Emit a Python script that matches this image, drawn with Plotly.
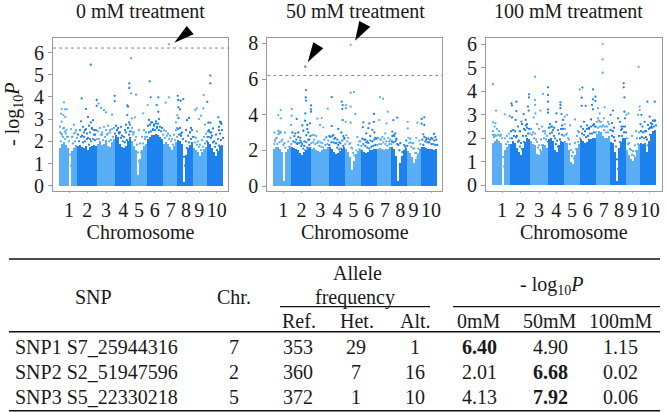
import plotly.graph_objects as go

W, H = 666, 412
ML, MR, MT, MB = 12, 4, 14, 16
FONT = "Liberation Serif"
LIGHT, DARK = "#5aaef6", "#1e82ee"
INK = "#1a1a1a"
SIZE = 20

chromosomes = ["1", "2", "3", "4", "5", "6", "7", "8", "9", "10"]
chrom_ends = [18.7, 37.7, 55.3, 71.7, 88.7, 103.7, 118.3, 134.3, 147.7, 163.7]
chrom_label_pos = [10, 28.3, 47, 64.3, 80, 95.7, 111.7, 127, 140.3, 157.7]
threshold = 6.2

# Height of the solid block, read every two position units
env_positions = list(range(1, 165, 2))
env_0 = [1.7,1.9,1.95,1.85,1.7,0,1.55,1.7,1.85,
         1.8,1.85,1.75,1.7,1.8,1.6,1.75,1.8,1.85,1.8,
         1.9,2.0,1.85,1.9,2.05,1.8,1.75,1.95,2.1,
         2.3,2.2,1.9,1.75,1.7,1.8,2.0,2.2,
         2.0,1.8,1.6,0.5,1.2,1.6,1.8,1.9,
         2.1,2.2,2.3,2.3,2.35,2.3,2.2,2.1,
         1.9,1.95,1.9,1.75,1.6,1.8,1.95,
         2.05,2.0,1.9,0.15,1.4,1.7,1.85,1.95,
         1.7,1.6,1.5,1.35,1.5,1.65,1.75,
         1.95,1.9,1.7,1.5,1.35,1.55,1.8,1.85]
env_50 = [2.1,2.2,2.2,2.05,1.9,0.3,1.9,2.1,2.25,
          2.2,2.15,2.1,2.0,1.85,1.75,1.9,2.0,2.15,2.2,
          2.1,2.15,2.0,1.95,1.9,2.0,2.1,2.05,2.2,
          2.2,2.1,1.9,1.8,1.85,1.95,2.1,2.2,
          2.1,1.9,1.6,0.9,1.4,1.8,1.95,2.1,
          2.0,1.9,1.85,1.9,2.0,2.0,2.05,2.1,
          2.1,2.15,2.1,2.0,2.05,2.1,2.2,
          2.2,2.1,1.7,0.3,1.3,1.7,2.0,2.15,
          1.95,1.85,1.6,1.3,1.5,1.8,2.05,
          2.2,2.2,2.15,2.1,2.1,2.05,2.0,2.1]
env_100 = [1.8,1.9,1.95,1.9,1.8,0.0,1.5,1.65,1.75,
           1.75,1.9,1.8,1.6,1.4,1.3,1.6,1.85,2.0,1.95,
           1.9,1.75,1.7,1.35,1.3,1.45,1.75,1.7,1.6,
           1.95,2.0,1.9,1.5,1.4,1.7,1.9,1.85,
           1.9,1.8,1.5,1.0,0.9,1.3,1.6,1.75,
           1.95,1.9,1.8,1.85,1.95,1.95,2.0,2.0,
           2.2,2.3,2.25,2.1,2.0,2.0,2.1,
           1.85,1.8,1.4,0.2,1.6,1.85,2.0,2.0,
           1.5,1.3,1.1,1.05,1.2,1.5,1.75,
           1.8,1.75,1.8,1.4,1.9,2.2,2.3,2.35]

# SNPs packed just above the block, read every two position units
near_0 = [2.0,2.2,2.1,2.2,2.0,0.9,1.9,2.0,2.15,
          2.0,2.2,1.95,2.0,2.1,1.85,2.0,2.1,2.05,2.1,
          2.1,2.3,2.05,2.2,2.3,2.0,2.05,2.2,2.35,
          2.5,2.4,2.15,2.0,1.95,2.05,2.3,2.45,
          2.3,2.05,1.85,1.1,1.5,1.9,2.1,2.2,
          2.4,2.45,2.55,2.5,2.6,2.5,2.45,2.3,
          2.15,2.25,2.1,2.0,1.85,2.05,2.2,
          2.3,2.25,2.1,0.9,1.7,1.95,2.1,2.2,
          1.95,1.85,1.75,1.6,1.75,1.9,2.0,
          2.2,2.15,1.95,1.75,1.6,1.8,2.05,2.15]
far_0 = [2.4,2.3,2.6,2.35,2.2,1.4,2.2,2.35,2.5,
         2.3,2.5,2.25,2.4,2.55,2.15,2.4,2.6,2.3,2.5,
         2.45,2.6,2.3,2.65,2.5,2.35,2.4,2.55,2.6,
         2.7,2.6,2.4,2.25,2.2,2.4,2.6,2.75,
         2.6,2.4,2.2,1.5,1.9,2.2,2.5,2.4,
         2.7,2.75,2.85,2.7,2.9,2.8,2.65,2.6,
         2.5,2.45,2.35,2.25,2.1,2.3,2.5,
         2.55,2.6,2.4,1.3,2.0,2.25,2.4,2.5,
         2.2,2.15,2.0,1.85,2.05,2.2,2.35,
         2.45,2.4,2.25,2.0,1.9,2.1,2.35,2.5]
near_50 = [2.35,2.45,2.5,2.3,2.15,0.9,2.2,2.35,2.5,
           2.45,2.35,2.4,2.25,2.1,2.0,2.15,2.3,2.4,2.45,
           2.35,2.4,2.25,2.2,2.15,2.3,2.35,2.3,2.45,
           2.45,2.4,2.15,2.05,2.1,2.25,2.35,2.5,
           2.35,2.15,1.85,1.3,1.7,2.05,2.25,2.35,
           2.25,2.15,2.1,2.2,2.25,2.3,2.3,2.35,
           2.35,2.45,2.35,2.25,2.35,2.35,2.45,
           2.5,2.35,2.0,0.8,1.6,2.0,2.25,2.4,
           2.2,2.1,1.85,1.6,1.8,2.05,2.3,
           2.5,2.45,2.45,2.35,2.35,2.3,2.3,2.35]
far_50 = [2.7,2.9,3.0,2.6,2.4,1.4,2.5,2.7,3.0,
          2.8,2.6,2.75,2.55,2.35,2.25,2.45,2.6,2.8,2.85,
          2.6,2.8,2.5,2.45,2.4,2.6,2.7,2.55,2.75,
          2.8,2.65,2.4,2.3,2.4,2.55,2.7,2.85,
          2.7,2.4,2.1,1.7,2.0,2.3,2.5,2.65,
          2.6,2.45,2.4,2.55,2.5,2.6,2.65,2.7,
          2.6,2.75,2.65,2.5,2.7,2.6,2.8,
          2.8,2.65,2.3,1.2,1.9,2.3,2.55,2.7,
          2.45,2.4,2.1,1.85,2.1,2.35,2.6,
          2.75,2.7,2.65,2.6,2.65,2.55,2.6,2.7]
near_100 = [2.05,2.1,2.15,2.1,2.0,0.8,1.75,1.85,2.0,
            2.0,2.1,2.05,1.85,1.65,1.55,1.85,2.1,2.2,2.2,
            2.15,2.0,1.95,1.6,1.5,1.7,2.0,1.95,1.85,
            2.2,2.25,2.1,1.75,1.65,1.95,2.15,2.1,
            2.15,2.0,1.75,1.25,1.15,1.55,1.85,2.0,
            2.2,2.15,2.05,2.1,2.2,2.2,2.25,2.25,
            2.45,2.5,2.5,2.35,2.25,2.25,2.35,
            2.1,2.05,1.65,0.7,1.85,2.1,2.25,2.25,
            1.75,1.55,1.3,1.25,1.45,1.75,2.0,
            2.05,2.0,2.05,1.7,2.15,2.45,2.5,2.55]
far_100 = [2.3,2.15,2.4,2.3,2.15,1.2,2.0,2.1,2.2,
           2.3,2.35,2.3,2.1,1.9,1.8,2.1,2.35,2.45,2.4,
           2.4,2.25,2.2,1.85,1.7,1.95,2.3,2.2,2.1,
           2.45,2.5,2.35,2.0,1.9,2.2,2.4,2.4,
           2.4,2.2,1.95,1.5,1.4,1.8,2.1,2.25,
           2.5,2.4,2.3,2.4,2.45,2.5,2.55,2.5,
           2.7,2.75,2.7,2.55,2.5,2.5,2.6,
           2.35,2.3,1.9,1.1,2.1,2.35,2.5,2.5,
           2.0,1.8,1.5,1.45,1.7,2.0,2.25,
           2.3,2.25,2.3,1.95,2.4,2.65,2.75,2.75]

# Individual SNPs higher up
pos_0 = [110,72,31.7,151.3,151.3,90.7,70.3,70.3,72,77,55.7,55.7,22.7,37.7,39.7,42,37.7,
         5,2.7,6,7.7,2,4.3,6.3,2.7,1,4.3,6,2,3.7,7.3,12,15,16.5,13.5,
         91.7,99.3,110,106.7,118.7,124.3,119.3,121.7,119.3,121,118.3,119.5,117,118,122,
         144.7,148.3,136.3,137.7,144.3,142,140,146,138,
         68.3,69,68.3,72.7,76,84.3,88.7,97.7,99.3,90,92,95,98,100,94,97,
         159.3,161,162.3,160,149.3,151.3,154,150,152,148.6,
         22,24,26,27,29,30,32,33,34,35,36,25,28,31,
         45,47,49,51,53,43,58,60,62,66,67,69,70,71,74,80,86,
         128,130,132,131,127,157,160,162]
val_0 = [6.37,5.74,5.45,4.96,4.61,4.7,4.61,4.4,4.16,4.1,4.05,3.81,3.93,3.86,3.7,3.5,3.6,
         3.75,3.45,3.44,3.44,3.25,3.18,3.1,2.88,2.66,2.58,2.43,2.36,2.2,2.5,2.55,2.75,2.4,2.2,
         3.98,3.98,3.98,3.74,4.05,3.9,3.86,3.83,3.53,3.44,3.18,3.05,2.85,2.6,2.35,
         4.08,3.78,3.41,3.48,3.48,3.15,3.0,2.75,2.45,
         3.62,3.56,3.18,3.03,3.08,3.26,3.63,3.63,3.33,2.96,2.85,2.75,2.65,3.0,2.5,2.8,
         3.08,2.88,2.78,2.65,2.84,2.84,2.58,2.5,2.4,2.2,
         2.9,2.65,2.5,3.45,3.1,2.7,2.85,2.55,2.95,2.5,2.3,2.2,2.35,2.1,
         3.4,3.3,2.7,2.5,3.2,2.4,2.5,2.35,2.65,2.5,2.75,2.6,2.85,2.45,2.4,2.5,2.2,
         2.95,3.05,2.6,2.4,2.5,2.3,2.5,2.85]

pos_50 = [32,77.4,32.7,32.4,32.7,37.7,37.7,37.7,32,77.4,80.7,58.4,68.4,69.4,72.7,77.4,72.7,69,54.4,82,
          106.7,109.7,114.4,100.7,7.4,5,7.4,18.4,18.4,23.4,17.7,1,5,6.7,6,7.4,3.4,1.7,11.7,
          44,48.4,46.7,50,58.4,69.4,72.4,77.4,31.7,36.7,34,90,96,100.7,106,113.3,120,124,
          134.4,148.4,151,148.4,144,134.4,151,160.7,
          22,25,27,29,30,33,35,36,28,31,24,34,
          60,62,64,66,68,70,71,65,93,95,97,99,101,102,94,92,89.5,
          119,120.5,122,123,118.7,127,132,137,140,143,146,150,153,155,158,162,112,116,104,108,84,86,
          41,53,56]
val_50 = [6.69,7.92,5.38,4.97,4.79,4.52,4.3,4.17,4.07,5.23,5.27,4.99,4.73,4.54,4.54,4.45,4.36,4.32,4.34,4.04,
          4.99,4.9,4.17,4.04,4.26,3.98,3.79,4.32,3.94,3.76,3.42,3.0,3.1,3.05,2.95,3.0,2.7,2.5,2.99,
          3.78,3.81,3.42,3.29,3.36,3.7,3.6,3.55,3.66,3.51,3.42,3.57,3.51,3.6,3.7,3.51,3.7,3.83,
          3.6,3.76,3.85,3.5,3.55,3.23,3.42,2.92,
          2.95,3.0,2.7,3.4,3.1,2.85,3.0,2.6,2.45,2.5,2.4,3.2,
          2.85,2.7,2.6,2.45,3.0,2.8,2.65,3.2,2.95,3.25,2.8,3.15,3.0,2.7,2.5,2.6,3.3,
          3.05,2.85,2.95,2.6,2.5,2.4,2.2,2.65,2.4,2.7,2.55,2.9,2.6,2.45,2.7,2.75,2.95,2.5,2.7,2.6,2.75,2.5,2.85,
          2.75,2.8,2.6]

pos_100 = [110.7,110.7,110.7,146.7,1,4,1,3.4,2.7,1,43,37,37,43,43,51,56,56,56,56,56,43.4,48.4,41.7,36.7,36,
           19.4,20,24.4,24.4,12.7,17.7,20,23.7,29.4,31.7,33.7,35,
           68.4,68.4,68.4,64.4,69.4,72.7,75,71,72.7,
           87.7,90.4,89.7,89.7,93.7,101,101,100,103.4,103.4,101,106,112.7,107.7,106,121,118.7,
           131.7,131.7,132.4,132.4,134.4,136.4,126,129.4,
           147.7,147.7,146,149.4,155.4,162.7,157.7,161.7,152.7,156,159.4,
           26,28,30,32,34,45,47,50,53,58,60,62,64,66,70,
           92,95,97,99,102,104,108,112,116,120,122,128,130,133,
           148.5,150.5,154,158,160,163,78,83,86,144,140]
val_100 = [6.01,5.36,4.79,5.04,4.3,3.18,2.68,2.64,2.5,2.14,4.62,3.87,3.74,3.63,3.42,3.89,4.17,3.84,3.56,3.23,3.09,3.06,3.18,2.89,3.18,3.35,
           3.49,3.4,3.56,3.16,3.02,2.95,2.89,2.78,2.71,3.03,2.78,2.6,
           3.53,3.42,3.28,3.06,3.03,2.92,3.0,2.78,2.6,
           4.08,4.16,3.73,3.38,3.38,4.08,3.66,3.42,3.77,3.59,3.23,3.28,3.32,3.06,2.85,3.18,3.0,
           4.34,4.17,3.74,3.13,3.0,3.06,2.85,2.5,
           3.35,3.2,3.0,3.0,3.56,3.56,2.92,2.75,2.7,2.57,2.5,
           2.5,2.3,2.6,2.4,2.55,2.6,2.4,2.5,2.3,2.6,2.5,2.45,2.7,2.35,2.55,
           2.7,2.55,2.4,2.8,2.6,2.5,2.7,2.85,2.7,2.65,2.45,2.7,2.4,2.85,
           2.6,2.5,2.3,2.45,2.6,2.75,2.55,2.8,2.3,2.3,2.1]

titles = ["0 mM treatment", "50 mM treatment", "100 mM treatment"]

# Table
snp_names = ["SNP1 S7_25944316", "SNP2 S2_51947596", "SNP3 S5_22330218"]
chr_col = ["7", "2", "5"]
ref_col = ["353", "360", "372"]
het_col = ["29", "7", "1"]
alt_col = ["1", "16", "10"]
p0_col = ["<b>6.40</b>", "2.01", "4.13"]
p50_col = ["4.90", "<b>6.68</b>", "<b>7.92</b>"]
p100_col = ["1.15", "0.02", "0.06"]


def px(x):
    return (x - ML) / (W - ML - MR)


def py(y):
    return 1 - (y - MT) / (H - MT - MB)


fig = go.Figure()
panels = [
    dict(env=env_0, near=near_0, far=far_0, pos=pos_0, val=val_0, x0=53, x1=228, y0=191, y1=38, y_zero=185.7,
         unit=22.2, ticks=[0, 1, 2, 3, 4, 5, 6], line=True, title_x=140),
    dict(env=env_50, near=near_50, far=far_50, pos=pos_50, val=val_50, x0=267.3, x1=442.3, y0=191, y1=38,
         y_zero=186, unit=17.83, ticks=[0, 2, 4, 6, 8], line=True, title_x=355),
    dict(env=env_100, near=near_100, far=far_100, pos=pos_100, val=val_100, x0=486, x1=661.7, y0=191, y1=38,
         y_zero=185.3, unit=23.5, ticks=[0, 1, 2, 3, 4, 5, 6], line=False, title_x=568),
]


def chrom_index(x):
    for i, e in enumerate(chrom_ends):
        if x <= e:
            return i
    return len(chrom_ends) - 1


annotations = []
shapes = []


def text(t, x, y, size=SIZE, anchor="center", **kw):
    annotations.append(dict(text=t, x=px(x), y=py(y), xref="paper", yref="paper", showarrow=False,
                            xanchor=anchor, yanchor="middle",
                            font=dict(family=FONT, size=size, color=INK), **kw))


for i, p in enumerate(panels):
    n = "" if i == 0 else str(i + 1)
    xa, ya = f"x{n}", f"y{n}"
    all_pos = p["pos"] + [x + 1 for x in env_positions] + env_positions
    all_val = p["val"] + p["near"] + p["far"]
    for colour, rem in ((LIGHT, 0), (DARK, 1)):
        keep = [k for k, x in enumerate(env_positions) if chrom_index(x) % 2 == rem]
        fig.add_trace(go.Bar(x=[env_positions[k] for k in keep], y=[p["env"][k] for k in keep], width=2,
                             marker=dict(color=colour, line=dict(width=0)), xaxis=xa, yaxis=ya,
                             hoverinfo="skip"))
        keep = [k for k, x in enumerate(all_pos) if chrom_index(x) % 2 == rem]
        fig.add_trace(go.Scatter(x=[all_pos[k] for k in keep], y=[all_val[k] for k in keep], mode="markers",
                                 marker=dict(color=colour, size=2.3, line=dict(width=0)), xaxis=xa, yaxis=ya))
    plot_h = p["y0"] - p["y1"]
    y_lo = -(p["y0"] - p["y_zero"]) / p["unit"]
    y_hi = y_lo + plot_h / p["unit"]
    box = dict(showline=True, linecolor="#9a9a9a", linewidth=1, mirror=True, showgrid=False, zeroline=False,
               tickfont=dict(family=FONT, size=SIZE, color=INK))
    fig.layout[f"xaxis{n}"] = dict(domain=[px(p["x0"]), px(p["x1"])], range=[-6, -6 + p["x1"] - p["x0"]],
                                   anchor=ya, tickmode="array", tickvals=chrom_label_pos, ticktext=chromosomes,
                                   ticks="outside", ticklen=1, tickcolor="#b5b5b5", ticklabelstandoff=0,
                                   title=dict(text="Chromosome", font=dict(family=FONT, size=SIZE, color=INK),
                                              standoff=0), **box)
    fig.layout[f"yaxis{n}"] = dict(domain=[py(p["y0"]), py(p["y1"])], range=[y_lo, y_hi], anchor=xa,
                                   tickmode="array", tickvals=p["ticks"], ticks="outside", ticklen=4,
                                   tickcolor="#9a9a9a", **box)
    text(titles[i], p["title_x"], 11)
    if p["line"]:
        shapes.append(dict(type="line", xref=f"{xa} domain", yref=ya, x0=0, x1=1, y0=threshold, y1=threshold,
                           line=dict(color="#8a8a8a", width=1, dash="dot")))

text("- log<sub>10</sub><i>P</i>", 13, 115, textangle=-90)


def triangle(a, b, c):
    path = "M {} {} L {} {} L {} {} Z".format(px(a[0]), py(a[1]), px(b[0]), py(b[1]), px(c[0]), py(c[1]))
    shapes.append(dict(type="path", xref="paper", yref="paper", path=path,
                       fillcolor="black", line=dict(width=0)))


triangle((174.3, 42.7), (186.7, 26), (193.7, 34.3))
triangle((307.7, 62.3), (313.3, 42.3), (323.3, 48.3))
triangle((355, 40.7), (359.3, 21), (370.3, 26.7))


def rule(x0, x1, y, w=1.5):
    shapes.append(dict(type="line", xref="paper", yref="paper", x0=px(x0), x1=px(x1), y0=py(y), y1=py(y),
                       line=dict(color="#111111", width=w)))


rule(9, 660, 259)
rule(9, 660, 331.7)
rule(9, 660, 410.7)
rule(280, 430, 306.7, 1.2)
rule(453, 660, 306.7, 1.2)

text("SNP", 93, 297)
text("Chr.", 234, 297)
text("Allele", 358, 273)
text("frequency", 355, 297)
text("- log<sub>10</sub><i>P</i>", 551, 285)
for label, x in (("Ref.", 299), ("Het.", 357), ("Alt.", 416), ("0mM", 479), ("50mM", 550), ("100mM", 621)):
    text(label, x, 321)
for r, y in enumerate((346.7, 371.7, 396.7)):
    text(snp_names[r], 13, y, anchor="left")
    text(chr_col[r], 234, y)
    text(ref_col[r], 298, y)
    text(het_col[r], 356, y)
    text(alt_col[r], 415, y)
    text(p0_col[r], 479, y)
    text(p50_col[r], 550, y)
    text(p100_col[r], 620, y)

fig.update_layout(width=W, height=H, margin=dict(l=ML, r=MR, t=MT, b=MB, pad=0), showlegend=False, barmode="overlay",
                  bargap=0, paper_bgcolor="white", plot_bgcolor="white", annotations=annotations, shapes=shapes,
                  font=dict(family=FONT), hovermode=False)
fig.write_html("out.html", config={"displayModeBar": False}, post_script="document.body.style.margin='0';")
